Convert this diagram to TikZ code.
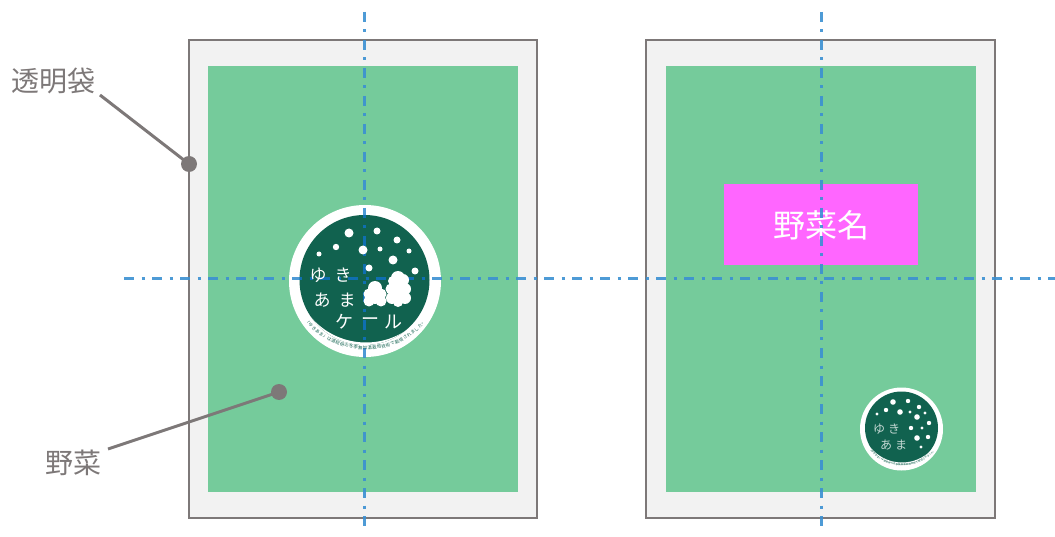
\documentclass[tikz,border=0pt]{standalone}
\usepackage{fontspec}
\setmainfont{Noto Sans CJK JP}
\usepackage{tikz}
\definecolor{bagline}{HTML}{7D7878}
\definecolor{bagfill}{HTML}{F2F2F2}
\definecolor{veg}{HTML}{75CB9B}
\definecolor{seal}{HTML}{11624F}
\definecolor{namebox}{HTML}{FF66FF}
\definecolor{guide}{HTML}{3B90D2}
\definecolor{guidedark}{HTML}{0F6FB0}
\tikzset{
  bag/.style={draw=bagline, fill=bagfill, line width=2.8pt, inner sep=0pt},
  vegbox/.style={fill=veg, inner sep=0pt},
  callout/.style={text=bagline, font=\fontsize{28}{28}\selectfont, inner sep=0pt},
  pin/.style={circle, fill=bagline, minimum size=16pt, inner sep=0pt},
  lead/.style={draw=bagline, line width=3pt},
  guideline/.style={draw=guide, opacity=.9, line width=3pt, dash pattern=on 10pt off 7.5pt on 3pt off 7.5pt},
  snow/.style={fill=white},
  sealtext/.style={text=white, inner sep=0pt, font=\fontsize{17}{17}\selectfont},
  smalltext/.style={text=white!75!seal, inner sep=0pt, font=\fontsize{12}{12}\selectfont}
}
\begin{document}
\begin{tikzpicture}[x=1pt, y=-1pt]
\useasboundingbox (0,0) rectangle (1055,537);

\node[name=bag_1, bag, minimum width=348pt, minimum height=478pt] at (363,279) {};
\node[name=bag_2, bag, minimum width=349pt, minimum height=478pt] at (820.5,279) {};
\node[name=veg_1, vegbox, minimum width=310pt, minimum height=426pt] at (363,279) {};
\node[name=veg_2, vegbox, minimum width=310pt, minimum height=426pt] at (821,279) {};
\node[name=name_box, fill=namebox, minimum width=194pt, minimum height=81pt, inner sep=0pt, text=white, font=\fontsize{32}{32}\selectfont] at (821,225) {野菜名};

% seal grounds
\node[name=seal_1_ring, circle, fill=white, minimum size=152pt, inner sep=0pt] at (365,281) {};
\node[name=seal_1, circle, fill=seal, minimum size=130pt, inner sep=0pt] at (364.5,280) {};
\begin{scope}
\clip (364.5,280) circle (65);
\fill[white, even odd rule] (364.5,280) circle (70) (366,270) circle (72.5);
\end{scope}
\node[name=seal_2_ring, circle, fill=white, minimum size=83pt, inner sep=0pt] at (901.5,429) {};
\node[name=seal_2, circle, fill=seal, minimum size=73pt, inner sep=0pt] at (901.5,428) {};
\begin{scope}
\clip (901.5,428) circle (36.5);
\fill[white, even odd rule] (901.5,428) circle (40) (902,422) circle (40.5);
\end{scope}

% guides
\coordinate (guide_1_top) at (364,12);
\coordinate (guide_1_bot) at (364,530);
\coordinate (guide_2_top) at (821,12);
\coordinate (guide_2_bot) at (821,530);
\coordinate (guide_h_left) at (124,279);
\coordinate (guide_h_right) at (1055,279);
\draw[guideline] (guide_1_top) -- (guide_1_bot);
\draw[guideline] (guide_2_top) -- (guide_2_bot);
\draw[guideline] (guide_h_left) -- (guide_h_right);
\begin{scope}
\clip (364.5,280) circle (65);
\clip (366,270) circle (72.5);
\draw[guideline, draw=guidedark, opacity=1] (guide_1_top) -- (guide_1_bot);
\draw[guideline, draw=guidedark, opacity=1] (guide_h_left) -- (guide_h_right);
\end{scope}

% large seal
\foreach \x/\y/\r in {349/233/4.5, 377/231/3.5, 397/240/3.5, 336/247/3.2, 363/250/4.5, 380/249/2.5, 409/251/2.5, 319/254/2.5, 393/260/4.5, 369/268/3.5, 415/271/3.5}
  \fill[snow] (\x,\y) circle (\r);
% kale
\foreach \x/\y/\r in {375/288/7, 369/294/5.5, 381/294/5.5, 369/301/5.5, 381/301/5.5, 375/296/8, 398/278/7, 393/281/5, 403/280/6, 391/289/5.5, 405/289/6, 392/298/6, 405/298/6, 398/302/5, 398/290/10}
  \fill[snow] (\x,\y) circle (\r);
\node[name=seal_1_yu, sealtext] at (318,275) {ゆ};
\node[name=seal_1_ki, sealtext] at (343,275) {き};
\node[name=seal_1_a, sealtext] at (322,300) {あ};
\node[name=seal_1_ma, sealtext] at (347,300) {ま};
\node[name=seal_1_ke, sealtext, font=\fontsize{18}{18}\selectfont] at (344,322) {ケ};
\node[name=seal_1_bar, sealtext, font=\fontsize{18}{18}\selectfont] at (370,322) {ー};
\node[name=seal_1_ru, sealtext, font=\fontsize{18}{18}\selectfont] at (393,322) {ル};

% small seal
\foreach \x/\y/\r in {893/402/2.8, 908/401/2.2, 919/407/2.2, 886/410/2.2, 900/412/2.8, 910/412/1.6, 925/413/1.6, 877/414/1.6, 917/417/2.8, 929/423/2.2, 911/428/2.2, 922/428/1.6, 917/438/2.8, 928/437/2.2, 921/447/1.6}
  \fill[snow] (\x,\y) circle (\r);
\node[name=seal_2_yu, smalltext] at (879,429) {ゆ};
\node[name=seal_2_ki, smalltext] at (894,429) {き};
\node[name=seal_2_a, smalltext] at (886,445) {あ};
\node[name=seal_2_ma, smalltext] at (901,445) {ま};

% small text round the seals
\foreach \cx/\cy/\rad/\fs/\pre in {366/270/78/4.4/arc_a, 902.5/422/42.7/2.4/arc_b}
  \foreach \ch [count=\i] in {「,ゆ,き,あ,ま,」,は,道,総,研,の,冬,季,無,加,温,栽,培,技,術,で,栽,培,さ,れ,ま,し,た,。}
    \node[name=\pre_\i, text=seal, inner sep=0pt, font=\fontsize{\fs}{\fs}\selectfont, rotate={90-(138.5-(\i-1)*3.42)}] at ({\cx+\rad*cos(138.5-(\i-1)*3.42)},{\cy+\rad*sin(138.5-(\i-1)*3.42)}) {\ch};

% callouts
\node[name=label_bag, callout] at (53,81) {透明袋};
\node[name=label_veg, callout] at (73,463) {野菜};
\node[name=pin_bag, pin] at (189,164) {};
\node[name=pin_veg, pin] at (279,392) {};
\coordinate (lead_bag) at (100,95);
\coordinate (lead_veg) at (108,449);
\draw[lead] (lead_bag) -- (pin_bag.center);
\draw[lead] (lead_veg) -- (pin_veg.center);
\end{tikzpicture}
\end{document}
